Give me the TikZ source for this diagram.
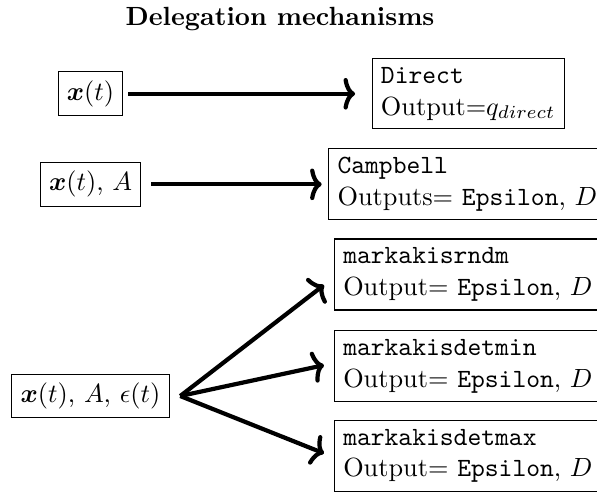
\documentclass[tikz,border=0pt]{standalone}
\usepackage{amsmath,amssymb}
\usepackage{tikz}
\usetikzlibrary{arrows.meta, positioning, calc}

\begin{document}
\begin{tikzpicture}[
    inp/.style={draw, align=center},
    outp/.style={draw, align=left, anchor=west},
    arr/.style={->, ultra thick},
    >={Computer Modern Rightarrow[length=4.4pt, width=12pt]}]
  \useasboundingbox (0,0) rectangle (7.978,-6.588);
  \node[anchor=base, font=\bfseries] (title) at (3.742,-0.334) {Delegation mechanisms};
  % inputs
  \node[inp] (inA) at (1.21,-1.253) {$\boldsymbol{x}(t)$};
  \node[inp] (inB) at (1.21,-2.463) {$\boldsymbol{x}(t)$, $A$};
  \node[inp] (inC) at (1.21,-5.292) {$\boldsymbol{x}(t)$, $A$, $\epsilon(t)$};
  % mechanisms
  \node[outp] (direct) at (4.967,-1.253) {\texttt{Direct}\\Output=$q_{direct}$};
  \node[outp] (campbell) at (4.387,-2.463) {\texttt{Campbell}\\Outputs= \texttt{Epsilon}, $D$};
  \node[outp] (rndm) at (4.463,-3.668) {\texttt{markakisrndm}\\Output= \texttt{Epsilon}, $D$};
  \node[outp] (detmin) at (4.463,-4.894) {\texttt{markakisdetmin}\\Output= \texttt{Epsilon}, $D$};
  \node[outp] (detmax) at (4.463,-6.090) {\texttt{markakisdetmax}\\Output= \texttt{Epsilon}, $D$};
  % arrows
  \draw[arr, shorten <=1.9pt, shorten >=6.3pt] (inA) -- (direct);
  \draw[arr, shorten <=3.8pt, shorten >=2.5pt] (inB) -- (campbell);
  \coordinate (fan) at ([xshift=4pt]inC.east);
  \draw[arr] (fan) -- ([xshift=-3.8pt, yshift=-4pt]rndm.west);
  \draw[arr] (fan) -- ([xshift=-3.8pt, yshift=0.4pt]detmin.west);
  \draw[arr] (fan) -- ([xshift=-3.8pt, yshift=0.9pt]detmax.west);
\end{tikzpicture}
\end{document}
